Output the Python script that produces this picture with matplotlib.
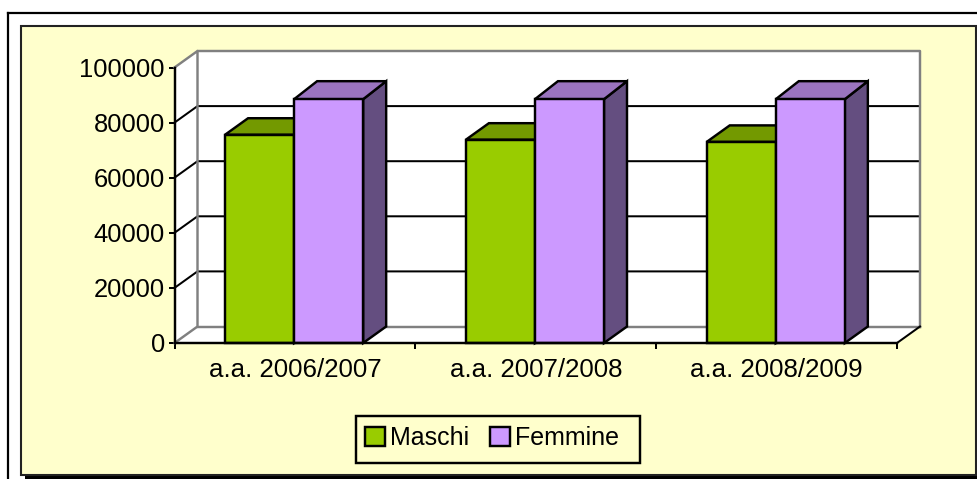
import matplotlib
matplotlib.use("Agg")
import matplotlib.pyplot as plt
from matplotlib.patches import Rectangle, Polygon, Patch
from matplotlib.lines import Line2D

categories = ["a.a. 2006/2007", "a.a. 2007/2008", "a.a. 2008/2009"]
maschi = [75600, 73800, 73000]
femmine = [88500, 88500, 88500]
y_ticks = [0, 20000, 40000, 60000, 80000, 100000]

plt.rcParams['font.family'] = ['Liberation Sans', 'DejaVu Sans']
W, H = 977, 479
fig = plt.figure(figsize=(W / 100, H / 100), dpi=100, facecolor='white')


def fx(p):
    return p / W


def fy(p):
    return 1 - p / H


LW = 1.45
BLW = 1.75
# outer frame and panel
fig.add_artist(Line2D([fx(8), fx(8)], [fy(479), fy(13.2)], color='black', lw=1.6, zorder=-5))
fig.add_artist(Line2D([fx(8), fx(977)], [fy(13.2), fy(13.2)], color='black', lw=1.6, zorder=-5))
fig.add_artist(Rectangle((fx(25), fy(479)), fx(952), fy(30) - fy(479), facecolor='black', edgecolor='none', zorder=-4))
fig.add_artist(Rectangle((fx(20.5), fy(475)), fx(955.5), fy(25.5) - fy(475),
                         facecolor='#FFFFCC', edgecolor='#222222', lw=1.5, zorder=-3))

# axes: the front plane of the 3D box
L, R, T, B = 174.5, 897, 67.5, 343
ax = fig.add_axes([fx(L), fy(B), fx(R - L), fy(T) - fy(B)])
ax.set_xlim(0, len(categories))
ax.set_ylim(0, 100000)
ax.patch.set_alpha(0)

DX = 23 / (R - L) * len(categories)
DY = 16.5 / (B - T) * 100000
DY_F = 18 / (B - T) * 100000
GAP = 0.21
BW = 0.2867
n = len(categories)

# walls
grey = '#808080'
ax.add_patch(Polygon([(0, 0), (DX, DY), (n + DX, DY), (n + DX, 100000 + DY), (DX, 100000 + DY), (0, 100000)],
                     closed=True, facecolor='white', edgecolor='none', clip_on=False, zorder=1))
ax.add_patch(Polygon([(0, 0), (n, 0), (n + DX, DY), (DX, DY)], closed=True, facecolor='white',
                     edgecolor='none', clip_on=False, zorder=1))
for v in y_ticks[1:-1]:
    ax.plot([0, DX, n + DX], [v, v + DY, v + DY], color='black', lw=LW, clip_on=False, zorder=2,
            solid_joinstyle='miter')
ax.plot([0, DX, DX, 0], [100000, 100000 + DY, DY, 0], color=grey, lw=LW + 0.3, clip_on=False, zorder=2)
ax.plot([DX, n + DX, n + DX], [100000 + DY, 100000 + DY, DY], color=grey, lw=LW + 0.3, clip_on=False, zorder=2)
ax.plot([DX, n + DX], [DY, DY], color=grey, lw=LW + 0.3, clip_on=False, zorder=2)
ax.plot([n, n + DX], [0, DY], color='black', lw=LW, clip_on=False, zorder=2)


def bar3d(x0, w, v, dy, front, top, side, z):
    kw = dict(closed=True, edgecolor='black', lw=BLW, clip_on=False, zorder=z, joinstyle='miter')
    ax.add_patch(Polygon([(x0 + w, 0), (x0 + w + DX, DY), (x0 + w + DX, v + dy), (x0 + w, v)], facecolor=side, **kw))
    ax.add_patch(Polygon([(x0, v), (x0 + DX, v + dy), (x0 + w + DX, v + dy), (x0 + w, v)], facecolor=top, **kw))
    ax.add_patch(Polygon([(x0, 0), (x0 + w, 0), (x0 + w, v), (x0, v)], facecolor=front, **kw))


for i in range(n):
    x0 = i + GAP
    bar3d(x0, BW, maschi[i], DY, '#99CC00', '#739900', '#5C7A00', 3 + i)
    bar3d(x0 + BW, BW, femmine[i], DY_F, '#CC99FF', '#9A74BF', '#644E80', 3.5 + i)

for s in ['top', 'right']:
    ax.spines[s].set_visible(False)
for s in ['left', 'bottom']:
    ax.spines[s].set_linewidth(BLW)
    ax.spines[s].set_zorder(8)
ax.set_yticks(y_ticks)
ax.set_yticklabels([str(v) for v in y_ticks], fontsize=18.4)
ax.set_xticks(range(n + 1))
ax.set_xticklabels([])
ax.set_xticks([i + 0.5 for i in range(n)], minor=True)
ax.set_xticklabels(categories, minor=True, fontsize=18.6)
ax.tick_params(axis='x', which='minor', length=0, pad=11)
ax.tick_params(axis='x', which='major', length=4, width=LW, direction='out')
ax.tick_params(axis='y', length=4, width=LW, pad=3)

fig.add_artist(Rectangle((fx(355.5), fy(463)), fx(284.5), fy(415.7) - fy(463),
                         facecolor='#FFFFCC', edgecolor='black', lw=BLW, zorder=-2))
handles = [Patch(facecolor='#99CC00', edgecolor='black', lw=BLW, label='Maschi'),
           Patch(facecolor='#CC99FF', edgecolor='black', lw=BLW, label='Femmine')]
leg = fig.legend(handles=handles, loc='center', bbox_to_anchor=(fx(492), fy(438)), ncol=2, fontsize=18,
                 frameon=False, handlelength=0.8, handleheight=0.8, handletextpad=0.2, columnspacing=0.86,
                 borderpad=0, borderaxespad=0)

fig.savefig('out.png', dpi=100)
